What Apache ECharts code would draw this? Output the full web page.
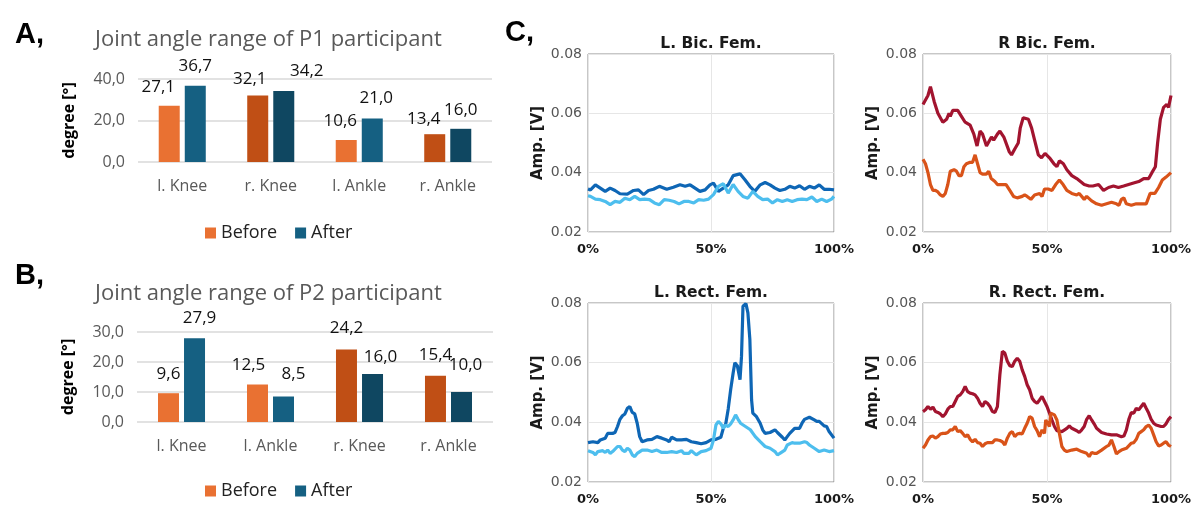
<!DOCTYPE html>
<html><head><meta charset="utf-8">
<script src="https://cdn.jsdelivr.net/npm/echarts@6/dist/echarts.min.js"></script>
<style>html,body{margin:0;padding:0;background:#fff}#c{width:1200px;height:507px}</style>
</head><body><div id="c"></div><script>
// ---------- data: panels A and B ----------
const jointsP1 = ['l. Knee', 'r. Knee', 'l. Ankle', 'r. Ankle'];
const beforeP1 = [27.1, 32.1, 10.6, 13.4];
const afterP1  = [36.7, 34.2, 21.0, 16.0];
const jointsP2 = ['l. Knee', 'l. Ankle', 'r. Knee', 'r. Ankle'];
const beforeP2 = [9.6, 12.5, 24.2, 15.4];
const afterP2  = [27.9, 8.5, 16.0, 10.0];
const ticksP1 = [0, 20, 40];
const ticksP2 = [0, 10, 20, 30];

// ---------- data: panel C (x = % of cycle, y = amplitude in V) ----------
const lbfDark = [[0,0.0345],[1,0.0342],[3,0.0359],[5,0.0348],[7,0.0337],[9,0.0348],[11,0.034],[13,0.0329],[16,0.0328],[18.5,0.034],[20.5,0.0342],[22.6,0.0326],[24.6,0.034],[26.6,0.0344],[29,0.0354],[32,0.0344],[34.7,0.0351],[37.4,0.0359],[39.5,0.0354],[41.5,0.0359],[43.5,0.0348],[45.5,0.0337],[47.6,0.0342],[49.6,0.0359],[51,0.0365],[53,0.0337],[55,0.0348],[57,0.0359],[59,0.039],[61.8,0.0396],[63.8,0.0376],[65.8,0.0354],[67.8,0.0337],[70,0.0359],[72,0.0367],[74,0.0359],[76,0.0348],[78,0.034],[80,0.0344],[82,0.0354],[84,0.0348],[86,0.0356],[88,0.0344],[90,0.0354],[92,0.0348],[94,0.0359],[96,0.0344],[98,0.0344],[100,0.0342]];
const lbfLight = [[0,0.0322],[1,0.032],[3,0.0311],[5,0.0309],[7,0.0303],[9,0.0292],[11,0.0303],[13,0.03],[15,0.0314],[17,0.0309],[19,0.032],[21,0.0309],[23,0.0311],[25,0.0309],[27,0.0298],[29,0.0292],[31,0.0309],[33,0.0307],[35,0.0303],[37,0.0295],[39,0.0303],[41,0.0303],[43,0.0298],[45,0.0309],[47,0.0307],[49,0.0311],[51,0.0326],[53,0.0354],[55,0.0363],[57,0.0331],[59,0.036],[61,0.0337],[63,0.032],[65,0.0314],[67,0.0337],[69,0.032],[71,0.0309],[73,0.0311],[75,0.0298],[77,0.0309],[79,0.0303],[81,0.0309],[83,0.0303],[85,0.0309],[87,0.0311],[89,0.0309],[91,0.0318],[93,0.0303],[95,0.0311],[97,0.0303],[99,0.0311],[100,0.032]];
const rbfRed = [[0,0.063],[2,0.066],[3,0.069],[4.5,0.064],[6,0.06],[8,0.057],[9.5,0.058],[10.5,0.06],[11,0.059],[12,0.061],[14,0.061],[15.5,0.059],[17,0.057],[19,0.056],[20.5,0.053],[21.8,0.049],[23,0.054],[24,0.053],[25.6,0.049],[27.6,0.052],[28.5,0.051],[30,0.053],[31,0.054],[32.6,0.052],[34.8,0.047],[35.7,0.046],[37,0.048],[38.4,0.05],[39.2,0.055],[40.4,0.0585],[42.5,0.058],[43.8,0.055],[45,0.051],[46.5,0.046],[47.8,0.045],[49.2,0.0465],[50,0.047],[51,0.045],[52.8,0.043],[54,0.042],[55,0.044],[56.6,0.043],[58,0.041],[60,0.039],[62,0.038],[63.5,0.037],[65,0.036],[67,0.0355],[68.5,0.0355],[70.8,0.036],[72.8,0.034],[74.8,0.035],[76.8,0.0355],[78.8,0.035],[80.9,0.0355],[82.9,0.036],[84.9,0.0365],[87,0.037],[89,0.038],[91,0.038],[92.3,0.04],[93.7,0.042],[94.6,0.05],[95.7,0.058],[97,0.062],[98.3,0.063],[99,0.062],[100,0.066]];
const rbfOrange = [[0,0.0445],[1,0.043],[2,0.04],[3,0.036],[4,0.034],[5,0.034],[6,0.0335],[7,0.0325],[8,0.032],[9,0.033],[10,0.036],[11,0.0405],[12.5,0.041],[13.5,0.0405],[14.5,0.039],[15.5,0.039],[16.5,0.042],[17.5,0.043],[19,0.0435],[20,0.0435],[21,0.046],[22,0.043],[23,0.04],[24,0.0395],[25.5,0.0395],[26.5,0.0405],[27.5,0.038],[29,0.037],[30,0.036],[32,0.036],[33.5,0.036],[35,0.034],[36.5,0.032],[38,0.0315],[40,0.032],[41,0.0325],[42,0.032],[43.5,0.031],[45,0.0325],[47,0.033],[48,0.032],[49,0.0345],[50.5,0.0345],[52,0.034],[53.5,0.036],[55,0.0375],[56.5,0.036],[58,0.034],[60,0.033],[62,0.0325],[63,0.033],[65,0.031],[66,0.032],[68,0.0305],[70,0.0295],[72,0.029],[74,0.0295],[76,0.03],[78,0.0295],[79,0.029],[80,0.031],[81,0.0315],[82,0.0295],[84,0.029],[86,0.0295],[88,0.0295],[90,0.0295],[91.6,0.033],[93.5,0.033],[95,0.035],[96.5,0.0375],[98,0.0385],[100,0.04]];
const lrfDark = [[0,0.0332],[2,0.0335],[4,0.0332],[5,0.0341],[7,0.0347],[8,0.0363],[10,0.0363],[11,0.0366],[12,0.0386],[13,0.041],[14,0.0422],[15,0.0428],[16,0.0447],[17,0.0453],[18,0.0433],[19,0.0428],[20,0.0397],[21,0.0352],[22,0.0335],[24,0.0341],[26,0.0343],[28,0.0352],[30,0.0347],[32,0.0341],[33,0.0335],[34,0.035],[36,0.0341],[38,0.0341],[40,0.0343],[42,0.0335],[44,0.0332],[46,0.0328],[48,0.0332],[50,0.0341],[52,0.0343],[54,0.035],[55,0.038],[56,0.0395],[57,0.0445],[58,0.051],[59,0.0565],[59.7,0.06],[60.7,0.059],[61.8,0.0543],[62.4,0.0621],[63,0.0789],[64.2,0.0798],[65,0.0767],[65.8,0.0677],[66.5,0.0475],[67,0.0431],[68.5,0.0419],[70,0.0397],[71,0.0375],[72,0.0363],[74,0.0366],[76,0.0375],[77,0.0366],[79,0.035],[80,0.0341],[81,0.0352],[82,0.0363],[84,0.038],[86,0.038],[87,0.0397],[88,0.041],[90,0.0417],[92,0.0408],[93,0.0403],[94,0.0403],[96,0.0388],[97,0.0386],[98,0.0369],[100,0.0347]];
const lrfLight = [[0,0.0305],[2,0.0299],[3,0.0291],[4,0.0302],[6,0.0305],[7,0.0299],[8,0.0307],[9,0.0296],[10,0.0302],[12,0.0319],[13,0.0319],[14,0.0307],[15,0.0302],[16,0.0313],[17,0.0307],[18,0.0291],[19,0.0285],[20,0.0296],[22,0.0307],[24,0.0307],[26,0.0302],[28,0.0307],[30,0.0299],[32,0.0299],[34,0.0302],[36,0.0299],[38,0.0305],[39,0.0296],[41,0.0296],[42,0.0305],[44,0.0291],[46,0.0302],[48,0.0305],[50,0.0313],[51,0.0341],[52,0.0391],[53,0.0403],[54,0.0395],[55,0.038],[56,0.0391],[57,0.0386],[58,0.0395],[59,0.0408],[60,0.0425],[61,0.041],[62,0.0397],[64,0.0386],[66,0.0375],[68,0.0352],[70,0.0335],[72,0.0319],[74,0.0313],[76,0.0302],[77,0.0291],[78,0.0296],[80,0.0307],[81,0.0324],[83,0.0332],[84,0.033],[86,0.033],[88,0.0335],[89,0.0332],[90,0.0324],[92,0.0313],[94,0.0302],[96,0.0307],[98,0.0302],[100,0.0305]];
const rrfRed = [[0,0.0436],[1,0.0442],[2,0.0453],[3,0.0444],[4,0.0451],[5,0.0436],[6,0.0433],[7,0.0428],[8,0.0419],[9,0.0428],[10,0.0444],[11,0.0453],[12,0.0453],[13,0.047],[14,0.0487],[15,0.0492],[16,0.0503],[17,0.052],[18,0.0503],[19,0.0498],[20,0.0496],[21,0.0492],[22,0.0481],[23,0.0464],[24,0.0453],[25,0.047],[26,0.0464],[27,0.0453],[28,0.0436],[29,0.0433],[30,0.0453],[31,0.056],[32,0.0638],[33,0.0632],[34,0.0605],[35,0.059],[36,0.0587],[37,0.0605],[38,0.0615],[39,0.0605],[40,0.0576],[41,0.0554],[42,0.0526],[43,0.0509],[44,0.0481],[45,0.047],[46,0.0464],[47,0.0475],[48,0.0487],[49,0.047],[50,0.0453],[51,0.0431],[52,0.0408],[53,0.0386],[54,0.0372],[56,0.0369],[58,0.038],[59,0.0388],[60,0.038],[62,0.0372],[63,0.0366],[64,0.0375],[65,0.0386],[66,0.041],[67,0.0422],[68,0.0408],[69,0.0395],[70,0.038],[72,0.0366],[74,0.0361],[76,0.0358],[78,0.0358],[80,0.0352],[81,0.0354],[82,0.0375],[83,0.041],[84,0.0433],[85,0.0431],[86,0.0447],[87,0.0442],[88,0.0453],[89,0.0464],[90,0.0447],[91,0.0431],[92,0.041],[93,0.0397],[94,0.0391],[96,0.0386],[97,0.0386],[98,0.0395],[99,0.041],[100,0.0419]];
const rrfOrange = [[0,0.0313],[1,0.0324],[2,0.0341],[3,0.0352],[4,0.0354],[5,0.0347],[6,0.0352],[7,0.0361],[8,0.0363],[9,0.0363],[10,0.0366],[11,0.0375],[12,0.0375],[13,0.0386],[14,0.0369],[15,0.0372],[16,0.0363],[17,0.0352],[18,0.0358],[19,0.0343],[20,0.0335],[21,0.0343],[22,0.0332],[23,0.033],[24,0.0319],[25,0.0328],[26,0.0332],[27,0.0332],[28,0.0332],[29,0.0341],[30,0.0341],[31,0.0339],[32,0.0335],[33,0.0324],[34,0.0347],[35,0.0363],[36,0.0369],[37,0.0352],[38,0.0361],[39,0.0363],[40,0.0361],[41,0.038],[42,0.0397],[43,0.0419],[44,0.0414],[45,0.0386],[46,0.0372],[47,0.0352],[48,0.0375],[49,0.0363],[49.5,0.0408],[50,0.0414],[51,0.0386],[51.5,0.0431],[52,0.0436],[53,0.0425],[54,0.0408],[55,0.0363],[56,0.0319],[57,0.0307],[58,0.0302],[60,0.0307],[62,0.031],[64,0.0302],[66,0.0296],[67,0.0285],[68,0.0299],[69,0.0296],[70,0.0296],[72,0.0307],[74,0.0319],[75,0.0324],[76,0.0341],[77,0.0319],[78,0.0294],[79,0.0302],[80,0.0307],[82,0.0313],[84,0.033],[85,0.0332],[86,0.0343],[87,0.0363],[88,0.0369],[89,0.0375],[90,0.0386],[91,0.0391],[92,0.038],[93,0.0358],[94,0.0335],[95,0.0321],[96,0.0324],[97,0.033],[98,0.0335],[99,0.0324],[100,0.0319]];
const muscleTitles = ['L. Bic. Fem.', 'R Bic. Fem.', 'L. Rect. Fem.', 'R. Rect. Fem.'];

// ---------- styles ----------
const XL = "'Open Sans', sans-serif";
const ML = "'DejaVu Sans', sans-serif";
const C_ORANGE = '#E97132', C_ORANGE_D = '#C04F15', C_BLUE = '#156082', C_BLUE_D = '#0F4761';
const labelShiftP1 = { before: [[-11,0],[-8,2],[-6,0],[-11,3]], after: [[0,-1],[23,-1],[4,-2],[0,0]] };
const labelShiftP2 = { before: [[0,-1],[-9,-1],[0,-3],[0,-2]], after: [[5,-2],[10,-4],[8,2],[4,-8]] };

const comma = v => v.toFixed(1).replace('.', ',');

function barSeries(name, vals, cats, idx, light, dark, shifts) {
  return {
    type: 'bar', name: name, xAxisIndex: idx, yAxisIndex: idx,
    barWidth: 21, barGap: '24%',
    itemStyle: { color: light },
    label: { show: true, position: 'top', distance: 10, fontFamily: XL, fontSize: 17, color: '#111',
             formatter: p => comma(p.value) },
    data: vals.map((v, i) => ({ value: v,
      itemStyle: { color: cats[i].startsWith('l') ? light : dark },
      label: { offset: shifts[i] } }))
  };
}

const barGrids = [
  { left: 138, top: 79, width: 354, height: 83 },
  { left: 137, top: 332, width: 356, height: 90 }
];
const lineGrids = [
  { left: 588, top: 54, width: 246, height: 178 },
  { left: 923, top: 54, width: 248, height: 178 },
  { left: 588, top: 303, width: 246, height: 179 },
  { left: 923, top: 303, width: 248, height: 179 }
];

const grids = barGrids.map(g => Object.assign({}, g)).concat(
  lineGrids.map(g => Object.assign({ show: true, borderColor: '#8f8f8f', borderWidth: 1, backgroundColor: '#fff' }, g)));

const xAxes = [
  { gridIndex: 0, type: 'category', data: jointsP1 },
  { gridIndex: 1, type: 'category', data: jointsP2 }
].map(a => Object.assign(a, {
  axisLine: { show: false }, axisTick: { show: false },
  axisLabel: { color: '#595959', fontFamily: XL, fontSize: 16, margin: 16 }
})).concat([2, 3, 4, 5].map(i => ({
  gridIndex: i, type: 'value', min: 0, max: 100, interval: 50,
  axisLine: { show: false }, axisTick: { show: false },
  splitLine: { show: true, lineStyle: { color: '#e6e6e6', width: 1 } },
  axisLabel: { formatter: '{value}%', color: '#1a1a1a', fontFamily: ML, fontWeight: 'bold', fontSize: 13, margin: 11 }
})));

const yAxes = [
  { gridIndex: 0, type: 'value', min: ticksP1[0], max: ticksP1[ticksP1.length - 1], interval: ticksP1[1] - ticksP1[0] },
  { gridIndex: 1, type: 'value', min: ticksP2[0], max: ticksP2[ticksP2.length - 1], interval: ticksP2[1] - ticksP2[0] }
].map(a => Object.assign(a, {
  name: 'degree [°]', nameLocation: 'middle', nameGap: 61,
  nameTextStyle: { fontFamily: XL, fontWeight: 'bold', fontSize: 16, color: '#000' },
  axisLine: { show: false }, axisTick: { show: false },
  splitLine: { lineStyle: { color: '#d9d9d9', width: 1.5 } },
  axisLabel: { color: '#595959', fontFamily: XL, fontSize: 16, margin: 13, formatter: v => comma(v) }
})).concat([2, 3, 4, 5].map(i => ({
  gridIndex: i, type: 'value', min: 0.02, max: 0.08, interval: 0.02,
  name: 'Amp. [V]', nameLocation: 'middle', nameGap: 42,
  nameTextStyle: { fontFamily: ML, fontWeight: 'bold', fontSize: 15, color: '#1a1a1a' },
  axisLine: { show: false }, axisTick: { show: false },
  splitLine: { show: true, lineStyle: { color: '#e6e6e6', width: 1 } },
  axisLabel: { color: '#555', fontFamily: ML, fontSize: 14, margin: 6, formatter: v => v.toFixed(2) }
})));

function lineSeries(data, idx, color) {
  return { type: 'line', xAxisIndex: idx, yAxisIndex: idx, data: data, showSymbol: false,
           lineStyle: { color: color, width: 3.2 }, itemStyle: { color: color } };
}

const BIG = { fontFamily: "'Liberation Sans', sans-serif", fontWeight: 'bold', fontSize: 29, color: '#000' };
const titles = [
  { text: 'A,', left: 10, top: 15, textStyle: BIG },
  { text: 'B,', left: 10, top: 256, textStyle: BIG },
  { text: 'C,', left: 500, top: 13, textStyle: BIG },
  { text: 'Joint angle range of P1 participant', left: 90, top: 24, textStyle: { fontFamily: XL, fontWeight: 'normal', fontSize: 22, color: '#595959' } },
  { text: 'Joint angle range of P2 participant', left: 90, top: 278, textStyle: { fontFamily: XL, fontWeight: 'normal', fontSize: 22, color: '#595959' } }
].concat(lineGrids.map((g, i) => ({
  text: muscleTitles[i], left: g.left + g.width / 2, top: g.top - 18, textAlign: 'center', padding: 0,
  textStyle: { fontFamily: ML, fontWeight: 'bold', fontSize: 15.5, color: '#1a1a1a' }
})));

const legendStyle = { data: ['Before', 'After'], icon: 'rect', itemWidth: 11, itemHeight: 11, itemGap: 18,
  textStyle: { fontFamily: XL, fontSize: 18, color: '#222' }, selectedMode: false };

const option = {
  animation: false,
  backgroundColor: '#fff',
  title: titles,
  legend: [
    Object.assign({ left: 200, top: 219 }, legendStyle),
    Object.assign({ left: 200, top: 477 }, legendStyle)
  ],
  grid: grids,
  xAxis: xAxes,
  yAxis: yAxes,
  series: [
    barSeries('Before', beforeP1, jointsP1, 0, C_ORANGE, C_ORANGE_D, labelShiftP1.before),
    barSeries('After', afterP1, jointsP1, 0, C_BLUE, C_BLUE_D, labelShiftP1.after),
    barSeries('Before', beforeP2, jointsP2, 1, C_ORANGE, C_ORANGE_D, labelShiftP2.before),
    barSeries('After', afterP2, jointsP2, 1, C_BLUE, C_BLUE_D, labelShiftP2.after),
    lineSeries(lbfDark, 2, '#0E66B5'),
    lineSeries(lbfLight, 2, '#4DBEEE'),
    lineSeries(rbfRed, 3, '#A2142F'),
    lineSeries(rbfOrange, 3, '#D95319'),
    lineSeries(lrfDark, 4, '#0E66B5'),
    lineSeries(lrfLight, 4, '#4DBEEE'),
    lineSeries(rrfRed, 5, '#A2142F'),
    lineSeries(rrfOrange, 5, '#D95319')
  ]
};

const chart = echarts.init(document.getElementById('c'), null, { renderer: 'canvas' });
chart.setOption(option);
</script></body></html>
